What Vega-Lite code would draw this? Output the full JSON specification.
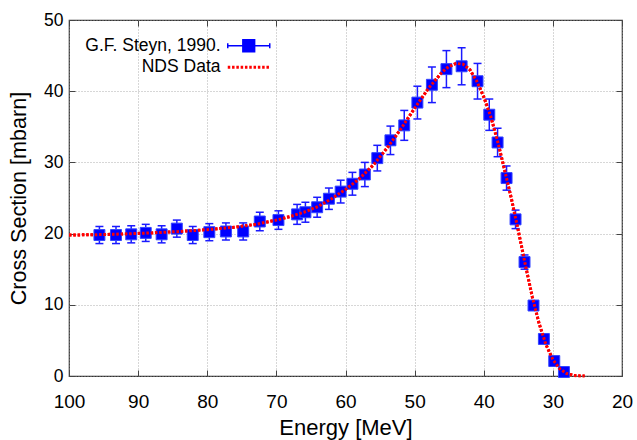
{
  "$schema": "https://vega.github.io/schema/vega-lite/v6.json",
  "width": 553,
  "height": 356,
  "autosize": "none",
  "padding": {"left": 69, "top": 20, "right": 15, "bottom": 64},
  "background": "white",
  "config": {
    "font": "Liberation Sans",
    "view": {"stroke": "#333333", "strokeWidth": 1.2},
    "axis": {
      "domain": false,
      "gridColor": "#999999",
      "gridDash": [1, 2],
      "gridWidth": 0.8,
      "tickColor": "#444444",
      "tickSize": -6,
      "tickWidth": 1,
      "labelColor": "black",
      "titleColor": "black",
      "titleFontWeight": "normal",
      "labelFont": "Liberation Sans",
      "titleFont": "Liberation Sans"
    }
  },
  "datasets": {
    "steyn": [
      {"E": 95.6, "cs": 19.8, "lo": 18.6, "hi": 21.0, "series": "G.F. Steyn, 1990."},
      {"E": 93.2, "cs": 19.8, "lo": 18.6, "hi": 21.0, "series": "G.F. Steyn, 1990."},
      {"E": 91.0, "cs": 19.9, "lo": 18.7, "hi": 21.1, "series": "G.F. Steyn, 1990."},
      {"E": 88.9, "cs": 20.1, "lo": 18.9, "hi": 21.3, "series": "G.F. Steyn, 1990."},
      {"E": 86.6, "cs": 19.9, "lo": 18.7, "hi": 21.1, "series": "G.F. Steyn, 1990."},
      {"E": 84.4, "cs": 20.7, "lo": 19.5, "hi": 21.9, "series": "G.F. Steyn, 1990."},
      {"E": 82.1, "cs": 19.8, "lo": 18.6, "hi": 21.0, "series": "G.F. Steyn, 1990."},
      {"E": 79.7, "cs": 20.2, "lo": 19.0, "hi": 21.4, "series": "G.F. Steyn, 1990."},
      {"E": 77.3, "cs": 20.3, "lo": 19.1, "hi": 21.5, "series": "G.F. Steyn, 1990."},
      {"E": 74.8, "cs": 20.3, "lo": 19.1, "hi": 21.5, "series": "G.F. Steyn, 1990."},
      {"E": 72.4, "cs": 21.7, "lo": 20.4, "hi": 23.0, "series": "G.F. Steyn, 1990."},
      {"E": 69.7, "cs": 21.9, "lo": 20.6, "hi": 23.2, "series": "G.F. Steyn, 1990."},
      {"E": 67.0, "cs": 22.7, "lo": 21.3, "hi": 24.1, "series": "G.F. Steyn, 1990."},
      {"E": 65.8, "cs": 23.0, "lo": 21.6, "hi": 24.4, "series": "G.F. Steyn, 1990."},
      {"E": 64.1, "cs": 23.7, "lo": 22.3, "hi": 25.1, "series": "G.F. Steyn, 1990."},
      {"E": 62.4, "cs": 24.9, "lo": 23.4, "hi": 26.4, "series": "G.F. Steyn, 1990."},
      {"E": 60.7, "cs": 25.9, "lo": 24.3, "hi": 27.5, "series": "G.F. Steyn, 1990."},
      {"E": 59.0, "cs": 27.0, "lo": 25.4, "hi": 28.6, "series": "G.F. Steyn, 1990."},
      {"E": 57.2, "cs": 28.3, "lo": 26.6, "hi": 30.0, "series": "G.F. Steyn, 1990."},
      {"E": 55.4, "cs": 30.6, "lo": 28.8, "hi": 32.4, "series": "G.F. Steyn, 1990."},
      {"E": 53.5, "cs": 33.1, "lo": 31.1, "hi": 35.1, "series": "G.F. Steyn, 1990."},
      {"E": 51.5, "cs": 35.2, "lo": 33.1, "hi": 37.3, "series": "G.F. Steyn, 1990."},
      {"E": 49.6, "cs": 38.4, "lo": 36.1, "hi": 40.7, "series": "G.F. Steyn, 1990."},
      {"E": 47.5, "cs": 40.9, "lo": 38.4, "hi": 43.4, "series": "G.F. Steyn, 1990."},
      {"E": 45.4, "cs": 43.1, "lo": 40.5, "hi": 45.7, "series": "G.F. Steyn, 1990."},
      {"E": 43.2, "cs": 43.5, "lo": 40.9, "hi": 46.1, "series": "G.F. Steyn, 1990."},
      {"E": 40.9, "cs": 41.4, "lo": 38.9, "hi": 43.9, "series": "G.F. Steyn, 1990."},
      {"E": 39.2, "cs": 36.7, "lo": 34.5, "hi": 38.9, "series": "G.F. Steyn, 1990."},
      {"E": 38.0, "cs": 32.8, "lo": 30.8, "hi": 34.8, "series": "G.F. Steyn, 1990."},
      {"E": 36.7, "cs": 27.8, "lo": 26.1, "hi": 29.5, "series": "G.F. Steyn, 1990."},
      {"E": 35.4, "cs": 22.0, "lo": 20.7, "hi": 23.3, "series": "G.F. Steyn, 1990."},
      {"E": 34.1, "cs": 16.0, "lo": 15.0, "hi": 17.0, "series": "G.F. Steyn, 1990."},
      {"E": 32.8, "cs": 9.9, "lo": 9.3, "hi": 10.5, "series": "G.F. Steyn, 1990."},
      {"E": 31.3, "cs": 5.2, "lo": 4.9, "hi": 5.5, "series": "G.F. Steyn, 1990."},
      {"E": 29.8, "cs": 2.1, "lo": 2.0, "hi": 2.2, "series": "G.F. Steyn, 1990."},
      {"E": 28.4, "cs": 0.56, "lo": 0.53, "hi": 0.59, "series": "G.F. Steyn, 1990."}
    ],
    "nds": [
      {"E": 100, "cs": 19.8, "series": "NDS Data"},
      {"E": 96, "cs": 19.85, "series": "NDS Data"},
      {"E": 92, "cs": 19.95, "series": "NDS Data"},
      {"E": 88, "cs": 20.1, "series": "NDS Data"},
      {"E": 84, "cs": 20.3, "series": "NDS Data"},
      {"E": 80, "cs": 20.55, "series": "NDS Data"},
      {"E": 76, "cs": 20.9, "series": "NDS Data"},
      {"E": 73, "cs": 21.3, "series": "NDS Data"},
      {"E": 70, "cs": 21.9, "series": "NDS Data"},
      {"E": 68, "cs": 22.4, "series": "NDS Data"},
      {"E": 66, "cs": 23.0, "series": "NDS Data"},
      {"E": 64, "cs": 23.8, "series": "NDS Data"},
      {"E": 62, "cs": 24.9, "series": "NDS Data"},
      {"E": 60, "cs": 26.2, "series": "NDS Data"},
      {"E": 58, "cs": 27.7, "series": "NDS Data"},
      {"E": 56, "cs": 29.6, "series": "NDS Data"},
      {"E": 54, "cs": 32.0, "series": "NDS Data"},
      {"E": 52, "cs": 34.7, "series": "NDS Data"},
      {"E": 50, "cs": 37.6, "series": "NDS Data"},
      {"E": 48, "cs": 40.4, "series": "NDS Data"},
      {"E": 46, "cs": 42.7, "series": "NDS Data"},
      {"E": 45, "cs": 43.5, "series": "NDS Data"},
      {"E": 44, "cs": 43.9, "series": "NDS Data"},
      {"E": 43, "cs": 43.8, "series": "NDS Data"},
      {"E": 42, "cs": 43.0, "series": "NDS Data"},
      {"E": 41, "cs": 41.4, "series": "NDS Data"},
      {"E": 40, "cs": 39.2, "series": "NDS Data"},
      {"E": 39, "cs": 36.5, "series": "NDS Data"},
      {"E": 38, "cs": 33.0, "series": "NDS Data"},
      {"E": 37, "cs": 29.0, "series": "NDS Data"},
      {"E": 36, "cs": 24.9, "series": "NDS Data"},
      {"E": 35, "cs": 20.4, "series": "NDS Data"},
      {"E": 34, "cs": 15.7, "series": "NDS Data"},
      {"E": 33, "cs": 11.2, "series": "NDS Data"},
      {"E": 32, "cs": 7.4, "series": "NDS Data"},
      {"E": 31, "cs": 4.4, "series": "NDS Data"},
      {"E": 30, "cs": 2.3, "series": "NDS Data"},
      {"E": 29, "cs": 1.0, "series": "NDS Data"},
      {"E": 28, "cs": 0.35, "series": "NDS Data"},
      {"E": 27, "cs": 0.08, "series": "NDS Data"},
      {"E": 26, "cs": 0.01, "series": "NDS Data"},
      {"E": 25.4, "cs": 0.0, "series": "NDS Data"}
    ]
  },
  "layer": [
    {
      "data": {"name": "nds"},
      "mark": {"type": "line", "strokeWidth": 3, "strokeDash": [2.5, 1.8], "clip": true, "strokeCap": "butt"},
      "encoding": {
        "x": {
          "field": "E", "type": "quantitative",
          "scale": {"domain": [20, 100], "reverse": true, "nice": false, "zero": false},
          "axis": {"orient": "bottom", "values": [100, 90, 80, 70, 60, 50, 40, 30, 20], "grid": true, "title": "Energy [MeV]", "labelFontSize": 19, "titleFontSize": 22, "labelPadding": 22, "titlePadding": 6, "labelFlush": false}
        },
        "y": {
          "field": "cs", "type": "quantitative",
          "scale": {"domain": [0, 50], "nice": false},
          "axis": {"orient": "left", "values": [0, 10, 20, 30, 40, 50], "grid": true, "title": "Cross Section [mbarn]", "labelFontSize": 17.5, "titleFontSize": 21.6, "labelPadding": 12, "titlePadding": 13}
        },
        "color": {
          "field": "series", "type": "nominal",
          "scale": {"domain": ["G.F. Steyn, 1990.", "NDS Data"], "range": ["#0000ff", "#ff0000"]},
          "legend": {
            "orient": "none",
            "legendX": 171,
            "legendY": 17,
            "title": null,
            "padding": 0,
            "labelAlign": "right",
            "labelOffset": -37,
            "labelFontSize": 17.5,
            "labelFont": "Liberation Sans",
            "labelColor": "black",
            "symbolSize": 1764,
            "rowPadding": 2.5,
            "encode": {
              "symbols": {
                "update": {
                  "shape": {"signal": "datum.value === 'NDS Data' ? 'M-1,0H1' : 'M-1,-0.12V0.12M-1,0H1M1,-0.12V0.12M-0.28,-0.28H0.28V0.28H-0.28Z'"},
                  "fill": {"signal": "datum.value === 'NDS Data' ? 'transparent' : '#0000ff'"},
                  "stroke": {"signal": "datum.value === 'NDS Data' ? '#ff0000' : '#0000ff'"},
                  "strokeWidth": {"signal": "datum.value === 'NDS Data' ? 3 : 1.5"},
                  "strokeDash": {"signal": "datum.value === 'NDS Data' ? [2.5, 1.8] : [1, 0]"},
                  "size": {"value": 1764},
                  "opacity": {"value": 1},
                  "fillOpacity": {"value": 1},
                  "strokeOpacity": {"value": 1}
                }
              }
            }
          }
        }
      }
    },
    {
      "data": {"name": "steyn"},
      "mark": {"type": "rule", "color": "#1a1aff", "strokeWidth": 1.5},
      "encoding": {
        "x": {"field": "E", "type": "quantitative", "axis": null},
        "y": {"field": "lo", "type": "quantitative", "axis": null},
        "y2": {"field": "hi"}
      }
    },
    {
      "data": {"name": "steyn"},
      "mark": {"type": "tick", "orient": "horizontal", "size": 8, "thickness": 1.5, "color": "#1a1aff", "opacity": 1},
      "encoding": {
        "x": {"field": "E", "type": "quantitative", "axis": null},
        "y": {"field": "lo", "type": "quantitative", "axis": null}
      }
    },
    {
      "data": {"name": "steyn"},
      "mark": {"type": "tick", "orient": "horizontal", "size": 8, "thickness": 1.5, "color": "#1a1aff", "opacity": 1},
      "encoding": {
        "x": {"field": "E", "type": "quantitative", "axis": null},
        "y": {"field": "hi", "type": "quantitative", "axis": null}
      }
    },
    {
      "data": {"name": "steyn"},
      "mark": {"type": "point", "shape": "square", "filled": true, "size": 120, "opacity": 1, "stroke": "#3344ff", "strokeWidth": 1},
      "encoding": {
        "x": {"field": "E", "type": "quantitative", "axis": {"orient": "top", "values": [100, 90, 80, 70, 60, 50, 40, 30, 20], "labels": false, "grid": false, "title": null}},
        "y": {"field": "cs", "type": "quantitative", "axis": {"orient": "right", "values": [0, 10, 20, 30, 40, 50], "labels": false, "grid": false, "title": null}},
        "color": {"field": "series", "type": "nominal"}
      }
    },
    {
      "data": {"name": "nds"},
      "mark": {"type": "line", "strokeWidth": 3, "strokeDash": [2.5, 1.8], "color": "#ff0000", "strokeCap": "butt"},
      "encoding": {
        "x": {"field": "E", "type": "quantitative", "axis": null},
        "y": {"field": "cs", "type": "quantitative", "axis": null}
      }
    }
  ]
}
